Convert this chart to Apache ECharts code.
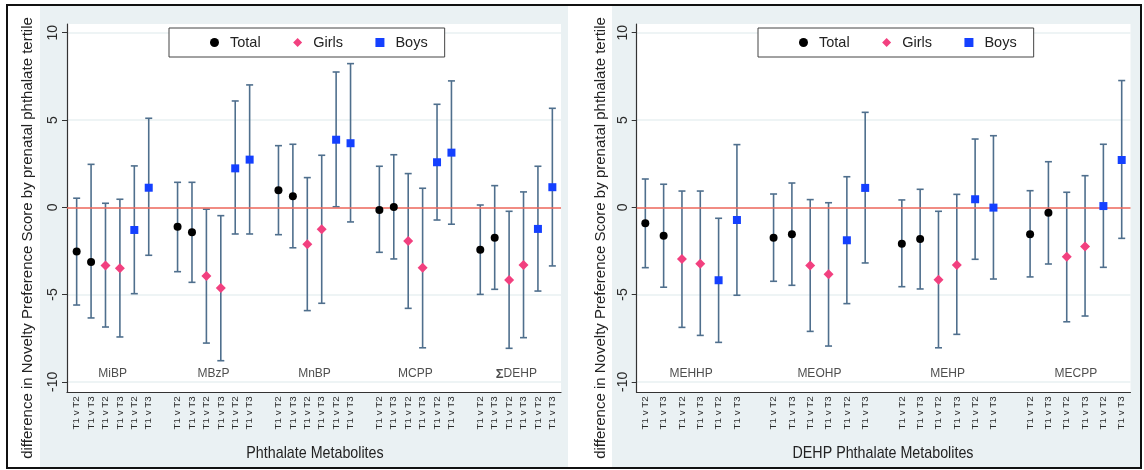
<!DOCTYPE html>
<html><head><meta charset="utf-8">
<script src="https://cdn.jsdelivr.net/npm/echarts@6/dist/echarts.min.js"></script>
<style>html,body{margin:0;padding:0;background:#fff}#c{width:1144px;height:470px}</style>
</head><body><div id="c"></div>
<script>
// ---------- data ----------
const contrasts = ['T1 v T2', 'T1 v T3'];
const sexes = ['Total', 'Girls', 'Boys'];
const yTicks = [-10, -5, 0, 5, 10];

const leftGroups = ['MiBP', 'MBzP', 'MnBP', 'MCPP', 'ΣDEHP'];
const leftTotalEst  = [-2.54, -3.13, -1.11, -1.43, 0.97, 0.63, -0.15, 0.02, -2.43, -1.74];
const leftTotalLow  = [-5.60, -6.34, -3.69, -4.30, -1.57, -2.32, -2.58, -2.96, -4.99, -4.70];
const leftTotalHigh = [0.52, 2.46, 1.43, 1.43, 3.53, 3.61, 2.35, 3.01, 0.13, 1.24];
const leftGirlsEst  = [-3.33, -3.50, -3.94, -4.62, -2.12, -1.26, -1.93, -3.46, -4.17, -3.31];
const leftGirlsLow  = [-6.86, -7.43, -7.78, -8.79, -5.92, -5.50, -5.79, -8.05, -8.08, -7.47];
const leftGirlsHigh = [0.23, 0.46, -0.11, -0.48, 1.70, 2.98, 1.93, 1.09, -0.23, 0.88];
const leftBoysEst   = [-1.30, 1.12, 2.23, 2.73, 3.87, 3.67, 2.58, 3.13, -1.24, 1.15];
const leftBoysLow   = [-4.95, -2.75, -1.53, -1.53, 0.03, -0.84, -0.73, -0.97, -4.80, -3.36];
const leftBoysHigh  = [2.37, 5.10, 6.09, 7.01, 7.75, 8.23, 5.90, 7.24, 2.35, 5.67];

const rightGroups = ['MEHHP', 'MEOHP', 'MEHP', 'MECPP'];
const rightTotalEst  = [-0.92, -1.63, -1.74, -1.55, -2.09, -1.82, -1.55, -0.31];
const rightTotalLow  = [-3.46, -4.58, -4.24, -4.47, -4.55, -4.68, -3.99, -3.25];
const rightTotalHigh = [1.62, 1.32, 0.76, 1.39, 0.42, 1.03, 0.95, 2.61];
const rightGirlsEst  = [-2.96, -3.23, -3.33, -3.84, -4.15, -3.31, -2.83, -2.24];
const rightGirlsLow  = [-6.88, -7.34, -7.11, -7.95, -8.05, -7.28, -6.56, -6.23];
const rightGirlsHigh = [0.93, 0.93, 0.44, 0.26, -0.23, 0.74, 0.86, 1.81];
const rightBoysEst   = [-4.18, -0.73, -1.89, 1.11, 0.46, -0.02, 0.07, 2.71];
const rightBoysLow   = [-7.74, -5.04, -5.52, -3.19, -2.98, -4.11, -3.44, -1.78];
const rightBoysHigh  = [-0.63, 3.59, 1.75, 5.44, 3.91, 4.10, 3.61, 7.26];

const leftXTitle = 'Phthalate Metabolites';
const rightXTitle = 'DEHP Phthalate Metabolites';
const yTitle = 'difference in Novelty Preference Score by prenatal phthalate tertile';

// ---------- helpers ----------
const GROUP_STEP = 7;
const SANS = "'Liberation Sans',Arial,sans-serif";
const BAR_COLOR = '#4f6f8d';
const colors = { Total: '#000000', Girls: '#f2407f', Boys: '#1440ff' };
const symbols = { Total: 'circle', Girls: 'diamond', Boys: 'rect' };
const sizes = { Total: 8, Girls: 10, Boys: 8 };

function pos(k, sexIdx) { return Math.floor(k / 2) * GROUP_STEP + sexIdx * 2 + (k % 2); }
function tickPositions(groups) {
  const out = [];
  groups.forEach((g, gi) => { for (let j = 0; j < 6; j++) out.push(gi * GROUP_STEP + j); });
  return out;
}
function xLabel(v) { const r = Math.round(v) % GROUP_STEP; return contrasts[r % 2]; }

function renderErr(params, api) {
  const x = api.value(0), lo = api.value(1), hi = api.value(2);
  const a = api.coord([x, lo]), b = api.coord([x, hi]);
  const w = 3.5;
  const st = { stroke: BAR_COLOR, lineWidth: 1.6, fill: null };
  return { type: 'group', children: [
    { type: 'line', shape: { x1: a[0], y1: a[1], x2: b[0], y2: b[1] }, style: st },
    { type: 'line', shape: { x1: a[0] - w, y1: a[1], x2: a[0] + w, y2: a[1] }, style: st },
    { type: 'line', shape: { x1: b[0] - w, y1: b[1], x2: b[0] + w, y2: b[1] }, style: st }
  ]};
}

function panelSeries(idx, groups, data) {
  const out = [];
  const errData = [];
  sexes.forEach((s, si) => {
    const d = data[s];
    d.est.forEach((v, k) => errData.push([pos(k, si), d.low[k], d.high[k]]));
  });
  out.push({
    type: 'custom', xAxisIndex: idx, yAxisIndex: idx, renderItem: renderErr,
    encode: { x: 0, y: [1, 2] }, data: errData, silent: true, z: 2,
    markLine: { silent: true, symbol: 'none', label: { show: false },
      lineStyle: { color: '#f26a5c', width: 1.6, type: 'solid' }, data: [{ yAxis: 0 }] }
  });
  sexes.forEach((s, si) => {
    out.push({
      type: 'scatter', name: s, xAxisIndex: idx, yAxisIndex: idx, z: 5,
      symbol: symbols[s], symbolSize: sizes[s],
      itemStyle: { color: colors[s], opacity: 1 },
      data: data[s].est.map((v, k) => [pos(k, si), v])
    });
  });
  out.push({
    type: 'scatter', xAxisIndex: idx, yAxisIndex: idx, z: 6, silent: true,
    symbolSize: 0.1, itemStyle: { color: 'rgba(0,0,0,0)' },
    label: { show: true, position: 'inside', color: '#222', fontSize: 12, fontFamily: SANS,
      formatter: p => p.name.startsWith('Σ') ? '{b|Σ}' + p.name.slice(1) : p.name,
      rich: { b: { fontWeight: 'bold', fontSize: 13, color: '#222', fontFamily: SANS } } },
    data: groups.map((g, gi) => ({ name: g, value: [gi * GROUP_STEP + 2.5, -9.55] }))
  });
  return out;
}

function xAxisFor(idx, groups, min, max) {
  const ticks = tickPositions(groups);
  return {
    gridIndex: idx, type: 'value', min: min, max: max,
    axisLine: { show: true, onZero: false, lineStyle: { color: '#333', width: 1.2 } },
    axisTick: { show: false }, splitLine: { show: false },
    axisLabel: { customValues: ticks, rotate: 90, fontSize: 9.8, color: '#2a2a2a', margin: 4,
      fontFamily: SANS, formatter: xLabel, hideOverlap: false }
  };
}
function yAxisFor(idx) {
  return {
    gridIndex: idx, type: 'value', min: -10.6, max: 10.5,
    axisLine: { show: true, onZero: false, lineStyle: { color: '#333', width: 1.2 } },
    axisTick: { show: true, customValues: yTicks, length: 5, lineStyle: { color: '#333' } },
    axisLabel: { customValues: yTicks, rotate: 90, fontSize: 14, color: '#2a2a2a', margin: 7, fontFamily: SANS },
    splitLine: { show: true, lineStyle: { color: '#e8f0f2', width: 1.6 } }
  };
}
function legendFor(left) {
  return {
    left: left, top: 28, orient: 'horizontal', selectedMode: false,
    itemWidth: 9, itemHeight: 9, itemGap: 32.5, padding: [7, 17, 7, 41],
    backgroundColor: '#fff', borderColor: '#444', borderWidth: 1, borderRadius: 0,
    textStyle: { fontSize: 14.5, color: '#222', fontFamily: SANS, padding: [0, 0, 0, 6] },
    data: sexes.map(s => ({ name: s, icon: symbols[s] }))
  };
}
function titleText(text, x, y, rot) {
  return { type: 'text', silent: true, x: x, y: y, rotation: rot, scaleX: rot ? 1 : 0.84,
    style: { text: text, fill: '#222', font: (rot ? '15px ' : '17px ') + SANS, align: 'center', verticalAlign: 'middle' } };
}

const chart = echarts.init(document.getElementById('c'), null, { renderer: 'canvas' });
chart.setOption({
  animation: false,
  backgroundColor: '#fff',
  grid: [
    { left: 67, top: 24, width: 494, height: 368.3, show: true, backgroundColor: '#fff', borderWidth: 0, outerBoundsMode: 'none' },
    { left: 636.7, top: 24, width: 493.8, height: 368.3, show: true, backgroundColor: '#fff', borderWidth: 0, outerBoundsMode: 'none' }
  ],
  xAxis: [
    xAxisFor(0, leftGroups, -0.67, 33.6),
    xAxisFor(1, rightGroups, -0.47, 26.48)
  ],
  yAxis: [yAxisFor(0), yAxisFor(1)],
  legend: [legendFor(169), legendFor(758)],
  graphic: [
    { type: 'rect', silent: true, z: -10, shape: { x: 40, y: 6, width: 528, height: 461 }, style: { fill: '#eaf1f3' } },
    { type: 'rect', silent: true, z: -10, shape: { x: 612, y: 6, width: 528, height: 461 }, style: { fill: '#eaf1f3' } },
    { type: 'rect', silent: true, z: 100, shape: { x: 7, y: 5, width: 1134, height: 463 }, style: { fill: null, stroke: '#111', lineWidth: 2 } },
    titleText(yTitle, 28, 238, Math.PI / 2),
    titleText(yTitle, 601, 238, Math.PI / 2),
    titleText(leftXTitle, 315, 453, 0),
    titleText(rightXTitle, 883, 453, 0)
  ],
  series: [].concat(
    panelSeries(0, leftGroups, {
      Total: { est: leftTotalEst, low: leftTotalLow, high: leftTotalHigh },
      Girls: { est: leftGirlsEst, low: leftGirlsLow, high: leftGirlsHigh },
      Boys:  { est: leftBoysEst,  low: leftBoysLow,  high: leftBoysHigh }
    }),
    panelSeries(1, rightGroups, {
      Total: { est: rightTotalEst, low: rightTotalLow, high: rightTotalHigh },
      Girls: { est: rightGirlsEst, low: rightGirlsLow, high: rightGirlsHigh },
      Boys:  { est: rightBoysEst,  low: rightBoysLow,  high: rightBoysHigh }
    })
  )
});
</script></body></html>
